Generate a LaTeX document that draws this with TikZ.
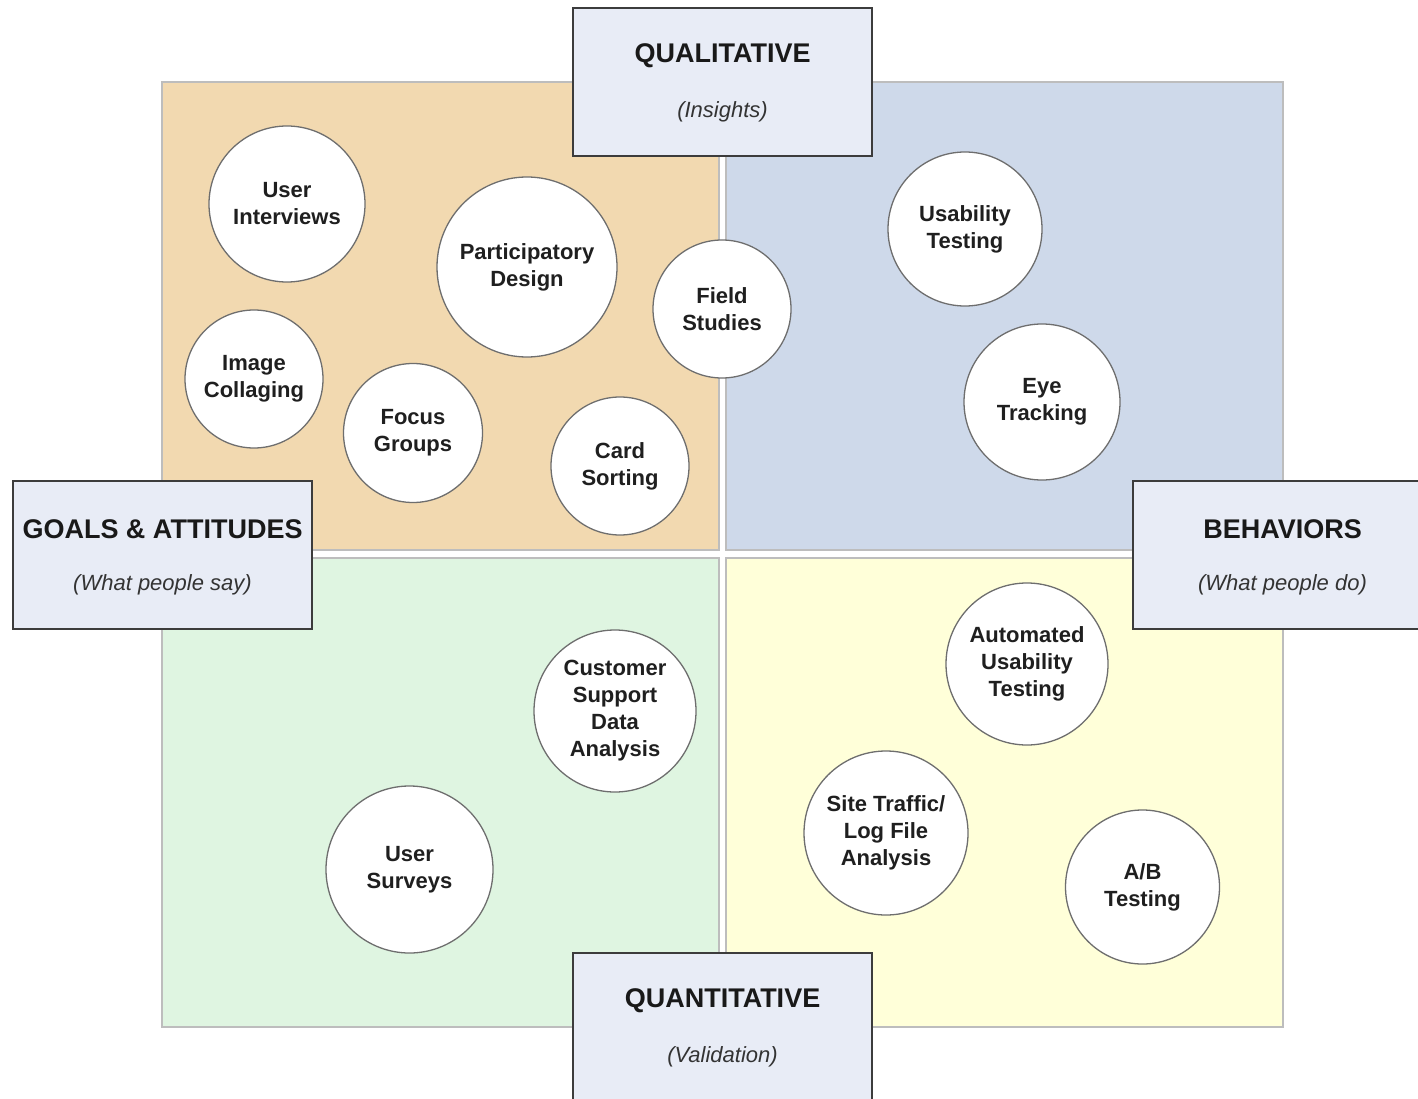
\documentclass[tikz,border=0pt]{standalone}
\usepackage{fontspec}
\setmainfont{Liberation Sans}
\definecolor{qtl}{HTML}{F2D9B0}
\definecolor{qtr}{HTML}{CED9EA}
\definecolor{qbl}{HTML}{DFF5E1}
\definecolor{qbr}{HTML}{FFFFD9}
\definecolor{qedge}{HTML}{BDBDBD}
\definecolor{lblfill}{HTML}{E8ECF6}
\definecolor{lbledge}{HTML}{3C3C3C}
\definecolor{circedge}{HTML}{6E6E6E}
\definecolor{subtxt}{HTML}{333333}
\tikzset{
  quad/.style={draw=qedge, line width=2pt},
  lblbox/.style={draw=lbledge, fill=lblfill, line width=1.8pt},
  meth/.style={circle, draw=circedge, fill=white, line width=1.3pt, inner sep=0pt,
    align=center, font=\fontsize{22}{27}\selectfont\bfseries, text=black!88},
  ttl/.style={font=\fontsize{27}{30}\selectfont\bfseries, text=black!90},
  subt/.style={font=\fontsize{22}{25}\selectfont\itshape, text=subtxt},
}
\begin{document}
\begin{tikzpicture}[x=1pt,y=-1pt]
\useasboundingbox (0,0) rectangle (1418,1099);
% quadrants
\draw[quad, fill=qtl] (162,82) rectangle (719,550);
\draw[quad, fill=qtr] (726,82) rectangle (1283,550);
\draw[quad, fill=qbl] (162,558) rectangle (719,1027);
\draw[quad, fill=qbr] (726,558) rectangle (1283,1027);
% methods
\node[meth, minimum size=156pt] (ui) at (287,204) {User\\Interviews};
\node[meth, minimum size=180pt] (pd) at (527,267) {Participatory\\Design};
\node[meth, minimum size=138pt] (fs) at (722,309) {Field\\Studies};
\node[meth, minimum size=138pt] (ic) at (254,379) {Image\\Collaging};
\node[meth, minimum size=139pt] (fg) at (413,433) {Focus\\Groups};
\node[meth, minimum size=138pt] (cs) at (620,466) {Card\\Sorting};
\node[meth, minimum size=154pt] (ut) at (965,229) {Usability\\Testing};
\node[meth, minimum size=156pt] (et) at (1042,402) {Eye\\Tracking};
\node[meth, minimum size=162pt] (csd) at (615,711) {Customer\\Support\\Data\\Analysis};
\node[meth, minimum size=167pt] (us) at (409.5,869.5) {User\\Surveys};
\node[meth, minimum size=162pt] (aut) at (1027,664) {Automated\\Usability\\Testing};
\node[meth, minimum size=164pt] (st) at (886,833) {Site Traffic/\\Log File\\Analysis};
\node[meth, minimum size=154pt] (ab) at (1142.5,887) {A/B\\Testing};
% label boxes
\draw[lblbox] (573,8) rectangle (872,156);
\node[ttl] (qual) at (722.5,56) {QUALITATIVE};
\node[subt] (qualsub) at (722.5,112) {(Insights)};
\draw[lblbox] (13,481) rectangle (312,629);
\node[ttl] (goals) at (162.5,529) {GOALS \& ATTITUDES};
\node[subt] (goalssub) at (162.5,585) {(What people say)};
\draw[lblbox] (1133,481) rectangle (1432,629);
\node[ttl] (beh) at (1282.5,529) {BEHAVIORS};
\node[subt] (behsub) at (1282.5,585) {(What people do)};
\draw[lblbox] (573,953) rectangle (872,1110);
\node[ttl] (quant) at (722.5,1001) {QUANTITATIVE};
\node[subt] (quantsub) at (722.5,1057) {(Validation)};
\end{tikzpicture}
\end{document}
